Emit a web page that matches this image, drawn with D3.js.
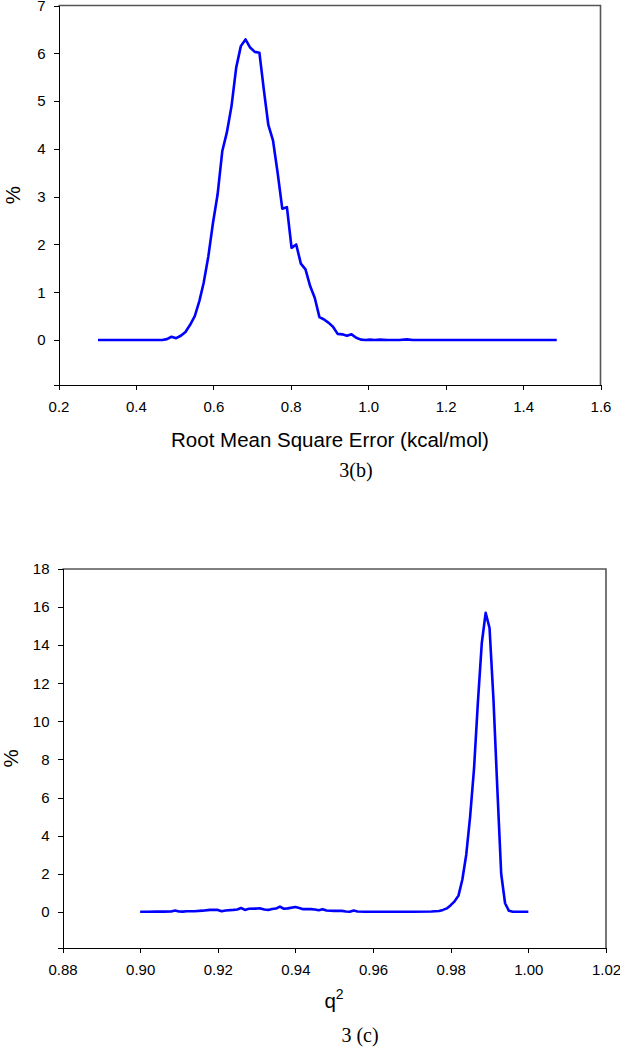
<!DOCTYPE html>
<html>
<head>
<meta charset="utf-8">
<script src="https://cdn.jsdelivr.net/npm/d3@7/dist/d3.min.js"></script>
<style>
body { margin: 0; background: #fff; }
.axis text { font-family: "Liberation Sans", Arial, sans-serif; font-size: 15px; fill: #000; }
.axis path, .axis line { stroke: #000; stroke-width: 1; shape-rendering: crispEdges; }
.frame { stroke: #555; stroke-width: 1.6; fill: none; }
.line { fill: none; stroke: #0000ff; stroke-width: 2.6; stroke-linejoin: round; }
.title { font-family: "Liberation Sans", Arial, sans-serif; font-size: 20.5px; fill: #000; }
.caption { font-family: "Liberation Serif", "Times New Roman", serif; font-size: 20px; fill: #000; }
</style>
</head>
<body>
<svg id="fig" width="620" height="1050"></svg>
<script>
// 3(b): RMSE distribution
var rmseX = [0.302, 0.35, 0.40, 0.45, 0.468, 0.480, 0.492, 0.504, 0.516, 0.528, 0.540, 0.552,
             0.564, 0.575, 0.587, 0.599, 0.611, 0.623, 0.635, 0.647, 0.659, 0.671, 0.683, 0.695,
             0.707, 0.719, 0.731, 0.742, 0.754, 0.766, 0.778, 0.790, 0.802, 0.814, 0.826, 0.838,
             0.850, 0.862, 0.874, 0.886, 0.898, 0.909, 0.921, 0.933, 0.945, 0.957, 0.969, 0.981,
             0.993, 1.005, 1.017, 1.03, 1.05, 1.08, 1.10, 1.115, 1.2, 1.3, 1.4, 1.487];
var rmseY = [0, 0, 0, 0, 0, 0.02, 0.07, 0.04, 0.09, 0.17, 0.32, 0.50,
             0.82, 1.2, 1.75, 2.45, 3.05, 3.95, 4.35, 4.9, 5.7, 6.15, 6.29, 6.12,
             6.03, 6.01, 5.2, 4.5, 4.18, 3.5, 2.75, 2.78, 1.93, 2.0, 1.6, 1.48,
             1.13, 0.88, 0.48, 0.43, 0.36, 0.28, 0.13, 0.12, 0.09, 0.12, 0.05, 0.01,
             0, 0.01, 0, 0.01, 0, 0, 0.015, 0, 0, 0, 0, 0];
var rmseXTicks = [0.2, 0.4, 0.6, 0.8, 1.0, 1.2, 1.4, 1.6];
var rmseYTicks = [0, 1, 2, 3, 4, 5, 6, 7];

// 3(c): q2 distribution
var q2X = [0.900, 0.902, 0.904, 0.906, 0.908, 0.909, 0.910, 0.911, 0.912, 0.914, 0.916, 0.918,
           0.920, 0.921, 0.922, 0.924, 0.925, 0.926, 0.927, 0.928, 0.930, 0.931, 0.932, 0.933,
           0.934, 0.935, 0.936, 0.937, 0.938, 0.940, 0.941, 0.942, 0.944, 0.945, 0.946, 0.947,
           0.948, 0.950, 0.952, 0.953, 0.954, 0.955, 0.956, 0.958, 0.960, 0.965, 0.970, 0.975,
           0.977, 0.978, 0.979, 0.980, 0.981, 0.982, 0.983, 0.984, 0.985, 0.986, 0.987, 0.988,
           0.989, 0.990, 0.991, 0.992, 0.993, 0.994, 0.995, 0.996, 0.998, 1.000];
var q2Y = [0, 0, 0.01, 0.01, 0.02, 0.07, 0.02, 0.01, 0.03, 0.03, 0.06, 0.1,
           0.1, 0.03, 0.07, 0.1, 0.12, 0.2, 0.1, 0.16, 0.17, 0.18, 0.12, 0.1,
           0.15, 0.17, 0.27, 0.16, 0.18, 0.25, 0.2, 0.14, 0.14, 0.12, 0.08, 0.14,
           0.07, 0.05, 0.05, 0.02, 0, 0.07, 0.02, 0, 0, 0, 0, 0.02,
           0.04, 0.1, 0.18, 0.35, 0.55, 0.85, 1.7, 3.0, 5.0, 7.5, 11.0, 14.1,
           15.7, 14.9, 11.2, 6.5, 2.0, 0.45, 0.05, 0, 0, 0];
var q2XTicks = [0.88, 0.90, 0.92, 0.94, 0.96, 0.98, 1.00, 1.02];
var q2YTicks = [0, 2, 4, 6, 8, 10, 12, 14, 16, 18];

var svg = d3.select("#fig");

function drawPanel(p) {
    var x = d3.scaleLinear().domain(p.xDomain).range([p.left, p.right]);
    var y = d3.scaleLinear().domain(p.yDomain).range([p.bottom, p.top]);

    var g = svg.append("g");

    // top and right border
    g.append("path")
        .attr("class", "frame")
        .attr("d", "M" + p.left + "," + p.top + "H" + p.right + "V" + p.bottom);

    g.append("g")
        .attr("class", "axis")
        .attr("transform", "translate(0," + p.bottom + ")")
        .call(d3.axisBottom(x).tickValues(p.xTicks).tickFormat(d3.format(p.xFmt))
            .tickSizeOuter(0).tickSize(5).tickPadding(11));

    g.append("g")
        .attr("class", "axis")
        .attr("transform", "translate(" + p.left + ",0)")
        .call(d3.axisLeft(y).tickValues(p.yTicks).tickFormat(d3.format("d"))
            .tickSizeOuter(0).tickSize(5).tickPadding(8));

    var line = d3.line()
        .x(function(d, i) { return x(p.xs[i]); })
        .y(function(d) { return y(d); });

    g.append("path")
        .attr("class", "line")
        .attr("d", line(p.ys));

    g.append("text")
        .attr("class", "title")
        .attr("text-anchor", "middle")
        .attr("transform", "translate(" + p.pctX + "," + ((p.top + p.bottom) / 2) + ") rotate(-90)")
        .text("%");

    return g;
}

var gb = drawPanel({
    xs: rmseX, ys: rmseY, xTicks: rmseXTicks, yTicks: rmseYTicks,
    xDomain: [0.2, 1.6], yDomain: [-0.94, 7], xFmt: ".1f",
    left: 58.5, right: 600.5, top: 5.5, bottom: 385, pctX: 19.5
});

gb.append("text")
    .attr("class", "title")
    .attr("text-anchor", "middle")
    .attr("x", 330).attr("y", 447)
    .text("Root Mean Square Error (kcal/mol)");

gb.append("text")
    .attr("class", "caption")
    .attr("text-anchor", "middle")
    .attr("x", 356).attr("y", 477)
    .text("3(b)");

var gc = drawPanel({
    xs: q2X, ys: q2Y, xTicks: q2XTicks, yTicks: q2YTicks,
    xDomain: [0.88, 1.02], yDomain: [-1.9, 18], xFmt: ".2f",
    left: 62.5, right: 606, top: 569, bottom: 948, pctX: 18
});

var qt = gc.append("text")
    .attr("class", "title")
    .attr("text-anchor", "middle")
    .attr("x", 334).attr("y", 1008);
qt.append("tspan").text("q");
qt.append("tspan").attr("dy", -9).attr("font-size", 14).text("2");

gc.append("text")
    .attr("class", "caption")
    .attr("text-anchor", "middle")
    .attr("x", 360).attr("y", 1042)
    .text("3 (c)");
</script>
</body>
</html>
